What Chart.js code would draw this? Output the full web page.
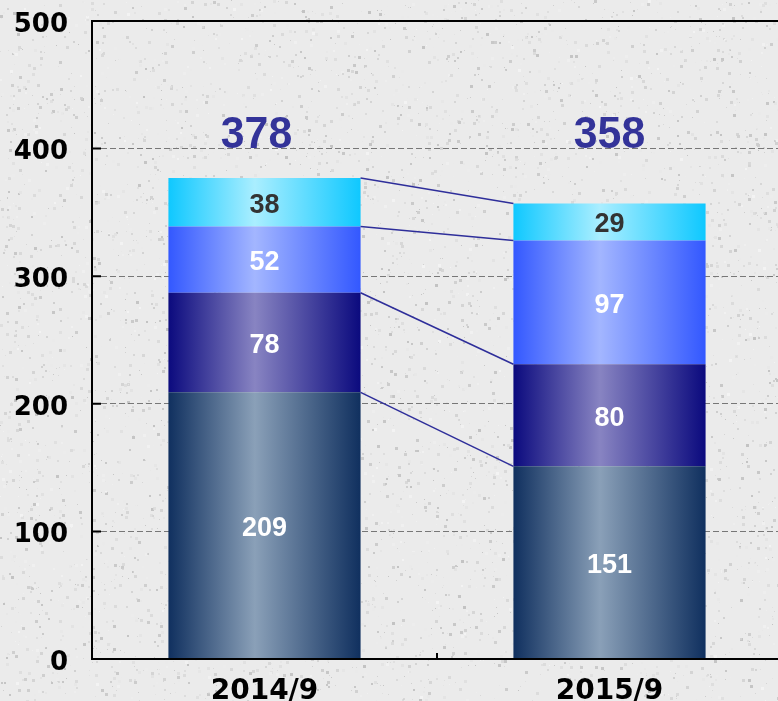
<!DOCTYPE html>
<html>
<head>
<meta charset="utf-8">
<script src="https://cdn.jsdelivr.net/npm/chart.js@4/dist/chart.umd.min.js"></script>
<style>
html, body { margin: 0; padding: 0; width: 778px; height: 701px; overflow: hidden; background: #e8e8e8; }
#wrap { width: 782px; height: 701px; }
</style>
</head>
<body>
<div id="wrap"><canvas id="myChart" width="782" height="701"></canvas></div>
<script>
// data
var categories = ["2014/9", "2015/9"];
var series1 = [209, 151];
var series2 = [78, 80];
var series3 = [52, 97];
var series4 = [38, 29];
var totals = [378, 358];
var yTicks = [0, 100, 200, 300, 400, 500];

// gradient colours for each series: [edge, middle]
var seriesColors = [
    ["#10305f", "#8aa0b8"],
    ["#0b0a7e", "#8884c2"],
    ["#3358ff", "#a3b6ff"],
    ["#0fc8ff", "#aaeeff"]
];
var labelColors = ["#ffffff", "#ffffff", "#ffffff", "#333333"];

// simple repeatable granite texture (not data)
var texture = document.createElement("canvas");
texture.width = 782;
texture.height = 701;
(function () {
    var t = texture.getContext("2d");
    t.fillStyle = "#ebebeb";
    t.fillRect(0, 0, 782, 701);
    var seed = 12345;
    function rnd() {
        seed = (seed * 1103515245 + 12345) % 2147483648;
        return seed / 2147483648;
    }
    for (var i = 0; i < 30000; i++) {
        var g = Math.floor(195 + rnd() * 50);
        t.fillStyle = "rgba(" + g + "," + g + "," + g + ",0.6)";
        var s = 1 + Math.floor(rnd() * 3);
        t.fillRect(Math.floor(rnd() * 782), Math.floor(rnd() * 701), s, s);
    }
})();

function makeGradient(context, colors) {
    var chart = context.chart;
    var xScale = chart.scales.x;
    if (!xScale || !chart.chartArea) return colors[0];
    var cx = xScale.getPixelForValue(context.dataIndex);
    var half = (xScale.width / categories.length) * 0.557 / 2;
    var g = chart.ctx.createLinearGradient(cx - half, 0, cx + half, 0);
    g.addColorStop(0, colors[0]);
    g.addColorStop(0.45, colors[1]);
    g.addColorStop(1, colors[0]);
    return g;
}

var bgPlugin = {
    id: "bg",
    beforeDraw: function (chart) {
        chart.ctx.drawImage(texture, 0, 0);
    }
};

var extrasPlugin = {
    id: "extras",
    afterDatasetsDraw: function (chart) {
        var ctx = chart.ctx;
        var area = chart.chartArea;
        var yScale = chart.scales.y;
        var xScale = chart.scales.x;
        ctx.save();

        // connector lines between the two bars
        ctx.strokeStyle = "#2e2e9a";
        ctx.lineWidth = 1.5;
        for (var d = 0; d < chart.data.datasets.length; d++) {
            var meta = chart.getDatasetMeta(d);
            var a = meta.data[0], b = meta.data[1];
            ctx.beginPath();
            ctx.moveTo(a.x + a.width / 2, a.y);
            ctx.lineTo(b.x - b.width / 2, b.y);
            ctx.stroke();
        }

        // value labels inside the segments
        ctx.font = "bold 27px 'Liberation Sans', Arial, sans-serif";
        ctx.textAlign = "center";
        ctx.textBaseline = "middle";
        for (var d = 0; d < chart.data.datasets.length; d++) {
            var meta = chart.getDatasetMeta(d);
            ctx.fillStyle = labelColors[d];
            meta.data.forEach(function (bar, i) {
                ctx.fillText(chart.data.datasets[d].data[i], bar.x, (bar.y + bar.base) / 2 + 3);
            });
        }

        // totals above the bars
        ctx.font = "bold 45px 'Liberation Sans', sans-serif";
        ctx.fillStyle = "#333399";
        ctx.textBaseline = "alphabetic";
        var offsets = [-8, 0];
        totals.forEach(function (t, i) {
            ctx.save();
            ctx.translate(xScale.getPixelForValue(i) + offsets[i], yScale.getPixelForValue(400) - 1);
            ctx.scale(0.95, 1);
            ctx.fillText(t, 0, 0);
            ctx.restore();
        });

        // frame and inner tick marks
        ctx.strokeStyle = "#000000";
        ctx.lineWidth = 2;
        ctx.beginPath();
        ctx.moveTo(area.right + 5, area.top);
        ctx.lineTo(area.left, area.top);
        ctx.lineTo(area.left, area.bottom);
        ctx.lineTo(area.right + 5, area.bottom);
        yTicks.forEach(function (v) {
            var y = yScale.getPixelForValue(v);
            ctx.moveTo(area.left, y);
            ctx.lineTo(area.left + 9, y);
        });
        var mid = (xScale.getPixelForValue(0) + xScale.getPixelForValue(1)) / 2;
        ctx.moveTo(mid, area.bottom);
        ctx.lineTo(mid, area.bottom - 6);
        ctx.stroke();
        ctx.restore();
    }
};

var datasets = [series1, series2, series3, series4].map(function (values, i) {
    return {
        label: "series" + (i + 1),
        data: values,
        backgroundColor: function (context) { return makeGradient(context, seriesColors[i]); },
        borderWidth: 0,
        barPercentage: 0.557,
        categoryPercentage: 1
    };
});

var ctx = document.getElementById("myChart");
var myChart = new Chart(ctx, {
    type: "bar",
    data: { labels: categories, datasets: datasets },
    options: {
        responsive: false,
        animation: false,
        layout: { padding: { top: 21, left: 0, right: 0, bottom: 0 } },
        plugins: { legend: { display: false }, tooltip: { enabled: false } },
        scales: {
            x: {
                stacked: true,
                grid: { display: false },
                border: { display: false },
                ticks: {
                    color: "#000000",
                    padding: 8,
                    font: { family: "'DejaVu Sans', sans-serif", size: 28, weight: "bold" }
                },
                afterFit: function (scale) {
                    scale.height = 42;
                    scale.paddingLeft = 0;
                    scale.paddingRight = 0;
                }
            },
            y: {
                stacked: true,
                min: 0,
                max: 500,
                afterBuildTicks: function (scale) {
                    scale.ticks = yTicks.map(function (v) { return { value: v }; });
                },
                grid: { color: "#777777", lineWidth: 1, drawTicks: false },
                border: { display: false, dash: [6, 3] },
                ticks: {
                    color: "#000000",
                    padding: 24,
                    labelOffset: 4,
                    font: { family: "'DejaVu Sans', sans-serif", size: 26, weight: "bold" }
                },
                afterFit: function (scale) {
                    scale.width = 92;
                    scale.paddingTop = 0;
                    scale.paddingBottom = 0;
                }
            }
        }
    },
    plugins: [bgPlugin, extrasPlugin]
});
</script>
</body>
</html>
